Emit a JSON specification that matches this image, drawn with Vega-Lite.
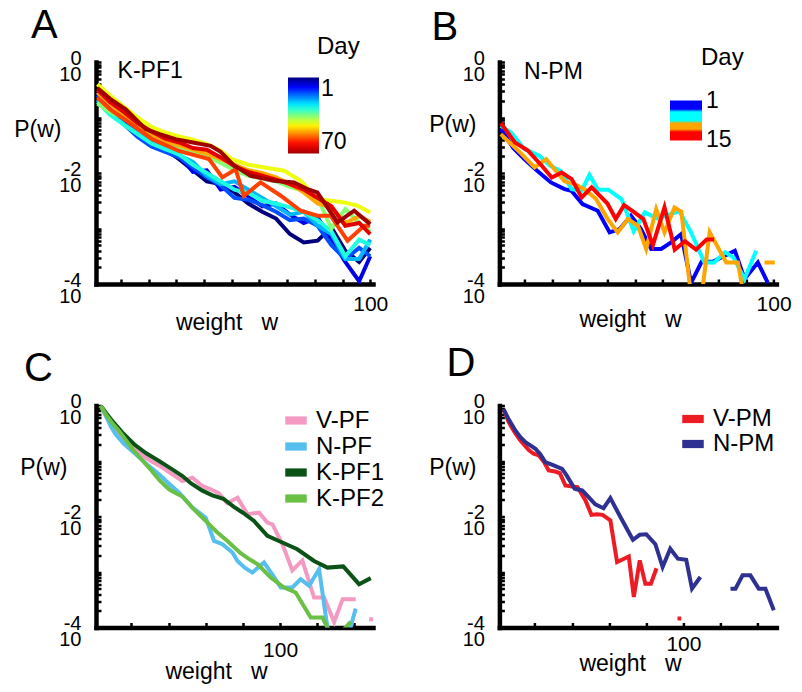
{
"$schema": "https://vega.github.io/schema/vega-lite/v6.json",
"padding": {"left": 13, "top": 5, "right": 5, "bottom": 5},
"background": "white",
"columns": 2,
"bounds": "flush",
"spacing": {"row": 121.5, "column": 126.4},
"config": {
 "font": "Liberation Sans",
 "view": {"stroke": null},
 "axis": {"domainColor": "black", "domainWidth": 4.5, "domainCap": "square", "tickColor": "black", "tickWidth": 2.5, "tickSize": -5, "grid": false, "labelColor": "black", "titleColor": "black", "labelFont": "Liberation Sans", "titleFont": "Liberation Sans", "titleFontWeight": "normal", "labelOverlap": false, "labelFlush": false, "labelBound": false},
 "legend": {"labelFont": "Liberation Sans", "titleFont": "Liberation Sans", "labelColor": "black", "titleColor": "black", "titleFontWeight": "normal", "padding": 0},
 "title": {"color": "black", "fontWeight": "normal", "font": "Liberation Sans"}
},
"resolve": {"scale": {"color": "independent"}},
"datasets": {
 "A": [
  {"day":1,"w":1.5,"P":0.263},{"day":1,"w":6,"P":0.141},{"day":1,"w":11,"P":0.0794},{"day":1,"w":16,"P":0.0525},{"day":1,"w":21,"P":0.0331},{"day":1,"w":26,"P":0.0263},{"day":1,"w":31,"P":0.0178},{"day":1,"w":36,"P":0.0112},{"day":1,"w":41,"P":0.00708},{"day":1,"w":46,"P":0.00631},{"day":1,"w":51,"P":0.00447},{"day":1,"w":56,"P":0.00282},{"day":1,"w":61,"P":0.002},{"day":1,"w":66,"P":0.00151},{"day":1,"w":71,"P":0.000794},{"day":1,"w":76,"P":0.000562},{"day":1,"w":81,"P":0.000603},{"day":1,"w":86,"P":0.00105},{"day":1,"w":91,"P":0.000398},{"day":1,"w":96,"P":0.000251},{"day":1,"w":100,"P":0.000447},
  {"day":8,"w":1.5,"P":0.282},{"day":8,"w":6,"P":0.141},{"day":8,"w":11,"P":0.0832},{"day":8,"w":16,"P":0.0562},{"day":8,"w":21,"P":0.0355},{"day":8,"w":26,"P":0.0282},{"day":8,"w":31,"P":0.0209},{"day":8,"w":36,"P":0.0105},{"day":8,"w":41,"P":0.0112},{"day":8,"w":46,"P":0.00501},{"day":8,"w":51,"P":0.00562},{"day":8,"w":56,"P":0.0038},{"day":8,"w":61,"P":0.00251},{"day":8,"w":66,"P":0.00282},{"day":8,"w":71,"P":0.00178},{"day":8,"w":76,"P":0.00126},{"day":8,"w":81,"P":0.00158},{"day":8,"w":86,"P":0.000631},{"day":8,"w":91,"P":0.000251},{"day":8,"w":96,"P":0.000112},{"day":8,"w":100,"P":0.000316},
  {"day":15,"w":1.5,"P":0.251},{"day":15,"w":6,"P":0.132},{"day":15,"w":11,"P":0.0759},{"day":15,"w":16,"P":0.0447},{"day":15,"w":21,"P":0.0302},{"day":15,"w":26,"P":0.024},{"day":15,"w":31,"P":0.0191},{"day":15,"w":36,"P":0.0126},{"day":15,"w":41,"P":0.00832},{"day":15,"w":46,"P":0.00603},{"day":15,"w":51,"P":0.00355},{"day":15,"w":56,"P":0.00331},{"day":15,"w":61,"P":0.00263},{"day":15,"w":66,"P":0.002},{"day":15,"w":71,"P":0.00141},{"day":15,"w":76,"P":0.00151},{"day":15,"w":81,"P":0.00112},{"day":15,"w":86,"P":0.000501},{"day":15,"w":91,"P":0.000282},{"day":15,"w":96,"P":0.000447},{"day":15,"w":100,"P":0.000316},
  {"day":22,"w":1.5,"P":0.209},{"day":22,"w":6,"P":0.12},{"day":22,"w":11,"P":0.0759},{"day":22,"w":16,"P":0.0525},{"day":22,"w":21,"P":0.0372},{"day":22,"w":26,"P":0.0282},{"day":22,"w":31,"P":0.0209},{"day":22,"w":36,"P":0.0158},{"day":22,"w":41,"P":0.00891},{"day":22,"w":46,"P":0.00631},{"day":22,"w":51,"P":0.00708},{"day":22,"w":56,"P":0.00501},{"day":22,"w":61,"P":0.00355},{"day":22,"w":66,"P":0.00251},{"day":22,"w":71,"P":0.00178},{"day":22,"w":76,"P":0.002},{"day":22,"w":81,"P":0.00112},{"day":22,"w":86,"P":0.000794},{"day":22,"w":91,"P":0.000282},{"day":22,"w":96,"P":0.000282},{"day":22,"w":100,"P":0.000631},
  {"day":29,"w":1.5,"P":0.191},{"day":29,"w":6,"P":0.112},{"day":29,"w":11,"P":0.0741},{"day":29,"w":16,"P":0.0501},{"day":29,"w":21,"P":0.0339},{"day":29,"w":26,"P":0.0269},{"day":29,"w":31,"P":0.0219},{"day":29,"w":36,"P":0.0141},{"day":29,"w":41,"P":0.01},{"day":29,"w":46,"P":0.00708},{"day":29,"w":51,"P":0.00501},{"day":29,"w":56,"P":0.00437},{"day":29,"w":61,"P":0.00316},{"day":29,"w":66,"P":0.00282},{"day":29,"w":71,"P":0.0024},{"day":29,"w":76,"P":0.002},{"day":29,"w":81,"P":0.00141},{"day":29,"w":86,"P":0.000891},{"day":29,"w":91,"P":0.000316},{"day":29,"w":96,"P":0.000631},{"day":29,"w":100,"P":0.000501},
  {"day":36,"w":1.5,"P":0.178},{"day":36,"w":6,"P":0.126},{"day":36,"w":11,"P":0.1},{"day":36,"w":16,"P":0.0832},{"day":36,"w":21,"P":0.0562},{"day":36,"w":26,"P":0.038},{"day":36,"w":31,"P":0.0282},{"day":36,"w":36,"P":0.024},{"day":36,"w":41,"P":0.02},{"day":36,"w":46,"P":0.0151},{"day":36,"w":51,"P":0.0112},{"day":36,"w":56,"P":0.00891},{"day":36,"w":61,"P":0.00794},{"day":36,"w":66,"P":0.00708},{"day":36,"w":71,"P":0.00562},{"day":36,"w":76,"P":0.00479},{"day":36,"w":81,"P":0.00355},{"day":36,"w":86,"P":0.001},{"day":36,"w":91,"P":0.00224},{"day":36,"w":96,"P":0.00126},{"day":36,"w":100,"P":0.000891},
  {"day":43,"w":1.5,"P":0.398},{"day":43,"w":6,"P":0.251},{"day":43,"w":11,"P":0.158},{"day":43,"w":16,"P":0.1},{"day":43,"w":21,"P":0.0676},{"day":43,"w":26,"P":0.0537},{"day":43,"w":31,"P":0.0457},{"day":43,"w":36,"P":0.0398},{"day":43,"w":41,"P":0.0331},{"day":43,"w":46,"P":0.0251},{"day":43,"w":50,"P":0.0178},{"day":43,"w":56,"P":0.0141},{"day":43,"w":61.6,"P":0.0126},{"day":43,"w":68.9,"P":0.011},{"day":43,"w":74.9,"P":0.00724},{"day":43,"w":80.9,"P":0.00339},{"day":43,"w":90.6,"P":0.00295},{"day":43,"w":95.4,"P":0.00257},{"day":43,"w":100,"P":0.00195},
  {"day":50,"w":1.5,"P":0.282},{"day":50,"w":6,"P":0.178},{"day":50,"w":11,"P":0.112},{"day":50,"w":16,"P":0.0708},{"day":50,"w":21,"P":0.0501},{"day":50,"w":26,"P":0.038},{"day":50,"w":31,"P":0.0316},{"day":50,"w":36,"P":0.0263},{"day":50,"w":41,"P":0.0224},{"day":50,"w":46,"P":0.0178},{"day":50,"w":51,"P":0.0141},{"day":50,"w":56,"P":0.0112},{"day":50,"w":61,"P":0.01},{"day":50,"w":66,"P":0.00832},{"day":50,"w":71,"P":0.00631},{"day":50,"w":76,"P":0.00447},{"day":50,"w":81,"P":0.00282},{"day":50,"w":86,"P":0.0024},{"day":50,"w":91,"P":0.00126},{"day":50,"w":96,"P":0.00166},{"day":50,"w":100,"P":0.00132},
  {"day":57,"w":1.5,"P":0.229},{"day":57,"w":6,"P":0.141},{"day":57,"w":12.9,"P":0.0813},{"day":57,"w":21.3,"P":0.0407},{"day":57,"w":30.9,"P":0.0251},{"day":57,"w":41.8,"P":0.0178},{"day":57,"w":46.6,"P":0.00832},{"day":57,"w":51.4,"P":0.0117},{"day":57,"w":54.4,"P":0.00389},{"day":57,"w":60.4,"P":0.00676},{"day":57,"w":67.7,"P":0.00389},{"day":57,"w":74.9,"P":0.00209},{"day":57,"w":80.9,"P":0.0017},{"day":57,"w":85.7,"P":0.0017},{"day":57,"w":91.8,"P":0.000603},{"day":57,"w":97.8,"P":0.00112},{"day":57,"w":100,"P":0.00112},
  {"day":64,"w":1.5,"P":0.316},{"day":64,"w":6,"P":0.191},{"day":64,"w":11,"P":0.126},{"day":64,"w":16,"P":0.0794},{"day":64,"w":21,"P":0.0562},{"day":64,"w":26,"P":0.0417},{"day":64,"w":31,"P":0.0355},{"day":64,"w":36,"P":0.0282},{"day":64,"w":41,"P":0.0263},{"day":64,"w":46,"P":0.0191},{"day":64,"w":51,"P":0.0132},{"day":64,"w":56,"P":0.0105},{"day":64,"w":61,"P":0.00891},{"day":64,"w":66,"P":0.00759},{"day":64,"w":71,"P":0.00631},{"day":64,"w":76,"P":0.00501},{"day":64,"w":81,"P":0.00355},{"day":64,"w":86,"P":0.00251},{"day":64,"w":91,"P":0.00112},{"day":64,"w":96,"P":0.00126},{"day":64,"w":100,"P":0.000794},
  {"day":70,"w":1.5,"P":0.339},{"day":70,"w":6,"P":0.219},{"day":70,"w":11.7,"P":0.141},{"day":70,"w":18.9,"P":0.0617},{"day":70,"w":24,"P":0.0501},{"day":70,"w":29.7,"P":0.0407},{"day":70,"w":36,"P":0.0355},{"day":70,"w":42.4,"P":0.0309},{"day":70,"w":46,"P":0.024},{"day":70,"w":50.5,"P":0.0141},{"day":70,"w":56.8,"P":0.00891},{"day":70,"w":65.3,"P":0.00724},{"day":70,"w":72.5,"P":0.00676},{"day":70,"w":77.3,"P":0.00513},{"day":70,"w":80.9,"P":0.00447},{"day":70,"w":88.2,"P":0.00129},{"day":70,"w":94.2,"P":0.00209},{"day":70,"w":100,"P":0.0012}
 ],
 "B": [
  {"day":1,"w":1.5,"P":0.0631},{"day":1,"w":6,"P":0.0282},{"day":1,"w":10,"P":0.0178},{"day":1,"w":14,"P":0.0117},{"day":1,"w":19.6,"P":0.00676},{"day":1,"w":24.5,"P":0.00513},{"day":1,"w":27,"P":0.00479},{"day":1,"w":31,"P":0.00275},{"day":1,"w":36.5,"P":0.00209},{"day":1,"w":40.8,"P":0.000851},{"day":1,"w":44.4,"P":0.000977},{"day":1,"w":48.5,"P":0.0017},{"day":1,"w":52,"P":0.001},{"day":1,"w":55.8,"P":0.000427},{"day":1,"w":59.4,"P":0.000427},{"day":1,"w":63,"P":0.000562},{"day":1,"w":66.6,"P":0.000794},{"day":1,"w":70.2,"P":0.000105},{"day":1,"w":74,"P":0.000251},{"day":1,"w":78,"P":0.000251},{"day":1,"w":82,"P":0.000316},{"day":1,"w":86,"P":0.000398},{"day":1,"w":89.5,"P":0.000123},{"day":1,"w":94.3,"P":0.000245},{"day":1,"w":97.9,"P":0.000105},
  {"day":5,"w":1.5,"P":0.0708},{"day":5,"w":5.2,"P":0.0537},{"day":5,"w":10.1,"P":0.0269},{"day":5,"w":15.4,"P":0.0204},{"day":5,"w":19.4,"P":0.0135},{"day":5,"w":23,"P":0.011},{"day":5,"w":27.1,"P":0.00513},{"day":5,"w":30.7,"P":0.00479},{"day":5,"w":33.5,"P":0.00933},{"day":5,"w":36.6,"P":0.00501},{"day":5,"w":40.3,"P":0.00501},{"day":5,"w":45.1,"P":0.00339},{"day":5,"w":49.5,"P":0.000891},{"day":5,"w":53.5,"P":0.00195},{"day":5,"w":58,"P":0.00151},{"day":5,"w":62,"P":0.00178},{"day":5,"w":66,"P":0.00204},{"day":5,"w":70,"P":0.000891},{"day":5,"w":75,"P":0.000245},{"day":5,"w":78.5,"P":0.000245},{"day":5,"w":82.5,"P":0.000372},{"day":5,"w":85.5,"P":0.000302},{"day":5,"w":89.5,"P":0.000123},{"day":5,"w":93.7,"P":0.000398},
  {"day":10,"w":1.5,"P":0.0501},{"day":10,"w":8.9,"P":0.0224},{"day":10,"w":13.7,"P":0.0126},{"day":10,"w":17.9,"P":0.0178},{"day":10,"w":20.9,"P":0.0117},{"day":10,"w":24.5,"P":0.00708},{"day":10,"w":28.1,"P":0.00631},{"day":10,"w":32,"P":0.00501},{"day":10,"w":35.9,"P":0.00339},{"day":10,"w":40.1,"P":0.00148},{"day":10,"w":43.7,"P":0.000851},{"day":10,"w":47.4,"P":0.00148},{"day":10,"w":51,"P":0.00112},{"day":10,"w":54,"P":0.000427},{"day":10,"w":57.6,"P":0.00224},{"day":10,"w":60.6,"P":0.000851},{"day":10,"w":64.2,"P":0.0024},{"day":10,"w":66.7,"P":0.002},{"day":10,"w":72,"P":0.00001},{"day":10,"w":76.9,"P":0.000851},{"day":10,"w":82.9,"P":0.000245},{"day":10,"w":87.1,"P":0.000245},{"day":10,"w":92,"P":0.00001},{"day":10,"w":94,"P":null},{"day":10,"w":96.7,"P":0.000245},{"day":10,"w":100.4,"P":0.000245},
  {"day":15,"w":1.5,"P":0.0794},{"day":15,"w":6.6,"P":0.0355},{"day":15,"w":11.4,"P":0.0251},{"day":15,"w":16.3,"P":0.0135},{"day":15,"w":19.9,"P":0.00832},{"day":15,"w":23.5,"P":0.0102},{"day":15,"w":27.1,"P":0.00776},{"day":15,"w":30.7,"P":0.00363},{"day":15,"w":34.3,"P":0.0055},{"day":15,"w":40,"P":0.00282},{"day":15,"w":43,"P":0.00148},{"day":15,"w":46,"P":0.00263},{"day":15,"w":49.5,"P":0.002},{"day":15,"w":53,"P":0.00148},{"day":15,"w":56.4,"P":0.000501},{"day":15,"w":60.6,"P":0.0024},{"day":15,"w":64.3,"P":0.000417},{"day":15,"w":68,"P":0.000589},{"day":15,"w":72,"P":0.000417},{"day":15,"w":75.8,"P":0.000631},{"day":15,"w":78.5,"P":0.000631}
 ],
 "C": [
  {"s":"V-PF","w":3.5,"P":1},{"s":"V-PF","w":6.5,"P":0.631},{"s":"V-PF","w":9.5,"P":0.447},{"s":"V-PF","w":13,"P":0.316},{"s":"V-PF","w":17,"P":0.234},{"s":"V-PF","w":20.6,"P":0.174},{"s":"V-PF","w":26,"P":0.126},{"s":"V-PF","w":30.5,"P":0.1},{"s":"V-PF","w":34.9,"P":0.0832},{"s":"V-PF","w":42.1,"P":0.0575},{"s":"V-PF","w":47.5,"P":0.0437},{"s":"V-PF","w":52.9,"P":0.0501},{"s":"V-PF","w":58.2,"P":0.0355},{"s":"V-PF","w":62.7,"P":0.0309},{"s":"V-PF","w":67,"P":0.0263},{"s":"V-PF","w":71.7,"P":0.0174},{"s":"V-PF","w":77.1,"P":0.0219},{"s":"V-PF","w":82.5,"P":0.011},{"s":"V-PF","w":88.7,"P":0.0117},{"s":"V-PF","w":93.2,"P":0.00776},{"s":"V-PF","w":95.9,"P":0.00724},{"s":"V-PF","w":101.3,"P":0.00316},{"s":"V-PF","w":106.6,"P":0.00107},{"s":"V-PF","w":112,"P":0.00162},{"s":"V-PF","w":118.3,"P":0.000347},{"s":"V-PF","w":123.7,"P":0.000347},{"s":"V-PF","w":129.1,"P":0.000126},{"s":"V-PF","w":133.7,"P":0.000324},{"s":"V-PF","w":140.7,"P":0.000324},{"s":"V-PF","w":144.5,"P":null},{"s":"V-PF","w":147.9,"P":0.000141},{"s":"V-PF","w":150.5,"P":0.000141},
  {"s":"N-PF","w":3.5,"P":1},{"s":"N-PF","w":6.5,"P":0.631},{"s":"N-PF","w":9,"P":0.417},{"s":"N-PF","w":11.6,"P":0.302},{"s":"N-PF","w":16,"P":0.204},{"s":"N-PF","w":22.4,"P":0.132},{"s":"N-PF","w":28,"P":0.0891},{"s":"N-PF","w":34.9,"P":0.0575},{"s":"N-PF","w":40,"P":0.0398},{"s":"N-PF","w":45.7,"P":0.0269},{"s":"N-PF","w":52.9,"P":0.0145},{"s":"N-PF","w":60,"P":0.00955},{"s":"N-PF","w":64.5,"P":0.00363},{"s":"N-PF","w":69,"P":0.00316},{"s":"N-PF","w":74.4,"P":0.00224},{"s":"N-PF","w":77.1,"P":0.00158},{"s":"N-PF","w":81,"P":0.0012},{"s":"N-PF","w":85.1,"P":0.000977},{"s":"N-PF","w":91.4,"P":0.00148},{"s":"N-PF","w":96,"P":0.000891},{"s":"N-PF","w":100.4,"P":0.000525},{"s":"N-PF","w":106.6,"P":0.000525},{"s":"N-PF","w":111.1,"P":0.000741},{"s":"N-PF","w":115.6,"P":0.000562},{"s":"N-PF","w":121,"P":0.00112},{"s":"N-PF","w":127,"P":0.0000447},{"s":"N-PF","w":133,"P":0.0000251},{"s":"N-PF","w":140.7,"P":0.000219},{"s":"N-PF","w":145,"P":null},
  {"s":"K-PF1","w":3.5,"P":1},{"s":"K-PF1","w":6.5,"P":0.724},{"s":"K-PF1","w":9.8,"P":0.525},{"s":"K-PF1","w":15.2,"P":0.324},{"s":"K-PF1","w":21.5,"P":0.2},{"s":"K-PF1","w":28,"P":0.138},{"s":"K-PF1","w":34.9,"P":0.1},{"s":"K-PF1","w":42,"P":0.0708},{"s":"K-PF1","w":47.5,"P":0.0537},{"s":"K-PF1","w":52,"P":0.0398},{"s":"K-PF1","w":58,"P":0.0295},{"s":"K-PF1","w":63.6,"P":0.024},{"s":"K-PF1","w":69.5,"P":0.0209},{"s":"K-PF1","w":75,"P":0.0151},{"s":"K-PF1","w":80,"P":0.0117},{"s":"K-PF1","w":86,"P":0.00832},{"s":"K-PF1","w":93.2,"P":0.00447},{"s":"K-PF1","w":100,"P":0.00355},{"s":"K-PF1","w":109.3,"P":0.00257},{"s":"K-PF1","w":118.3,"P":0.00158},{"s":"K-PF1","w":125.5,"P":0.0012},{"s":"K-PF1","w":134,"P":0.00126},{"s":"K-PF1","w":142.5,"P":0.000603},{"s":"K-PF1","w":148.8,"P":0.000776},
  {"s":"K-PF2","w":3.5,"P":1},{"s":"K-PF2","w":6.5,"P":0.676},{"s":"K-PF2","w":9.8,"P":0.479},{"s":"K-PF2","w":13.4,"P":0.347},{"s":"K-PF2","w":17,"P":0.24},{"s":"K-PF2","w":21,"P":0.158},{"s":"K-PF2","w":26,"P":0.102},{"s":"K-PF2","w":31,"P":0.0661},{"s":"K-PF2","w":35.5,"P":0.0437},{"s":"K-PF2","w":40.3,"P":0.0309},{"s":"K-PF2","w":44,"P":0.0263},{"s":"K-PF2","w":47.5,"P":0.0229},{"s":"K-PF2","w":53,"P":0.0141},{"s":"K-PF2","w":60,"P":0.00832},{"s":"K-PF2","w":66,"P":0.00525},{"s":"K-PF2","w":71.7,"P":0.00363},{"s":"K-PF2","w":78.8,"P":0.00219},{"s":"K-PF2","w":84,"P":0.00166},{"s":"K-PF2","w":88,"P":0.00138},{"s":"K-PF2","w":95,"P":0.000794},{"s":"K-PF2","w":102.2,"P":0.000525},{"s":"K-PF2","w":108.4,"P":0.000427},{"s":"K-PF2","w":116.5,"P":0.000151},{"s":"K-PF2","w":122.8,"P":0.000151},{"s":"K-PF2","w":128,"P":0.0000676},{"s":"K-PF2","w":133,"P":0.0000832},{"s":"K-PF2","w":138,"P":0.000126},{"s":"K-PF2","w":142,"P":null}
 ],
 "D": [
  {"s":"V-PM","w":3.3,"P":0.851},{"s":"V-PM","w":6,"P":0.501},{"s":"V-PM","w":9.5,"P":0.316},{"s":"V-PM","w":12.3,"P":0.234},{"s":"V-PM","w":16.8,"P":0.158},{"s":"V-PM","w":19.4,"P":0.135},{"s":"V-PM","w":22.2,"P":0.126},{"s":"V-PM","w":25,"P":0.0955},{"s":"V-PM","w":27.5,"P":0.0676},{"s":"V-PM","w":31,"P":0.0646},{"s":"V-PM","w":33.5,"P":0.0603},{"s":"V-PM","w":36.5,"P":0.0363},{"s":"V-PM","w":40,"P":0.0347},{"s":"V-PM","w":43,"P":0.0339},{"s":"V-PM","w":47.3,"P":0.0195},{"s":"V-PM","w":50.5,"P":0.0107},{"s":"V-PM","w":53.5,"P":0.011},{"s":"V-PM","w":56.5,"P":0.0107},{"s":"V-PM","w":60.7,"P":0.00851},{"s":"V-PM","w":64.3,"P":0.00151},{"s":"V-PM","w":67.5,"P":0.0017},{"s":"V-PM","w":70.6,"P":0.00191},{"s":"V-PM","w":73.3,"P":0.000355},{"s":"V-PM","w":76.5,"P":0.00162},{"s":"V-PM","w":79.5,"P":0.000617},{"s":"V-PM","w":82.5,"P":0.000617},{"s":"V-PM","w":85.5,"P":0.00117},{"s":"V-PM","w":90,"P":null},{"s":"V-PM","w":96.8,"P":0.000145},{"s":"V-PM","w":98.8,"P":0.000145},{"s":"V-PM","w":102,"P":null},
  {"s":"N-PM","w":3.3,"P":0.851},{"s":"N-PM","w":6,"P":0.562},{"s":"N-PM","w":9.6,"P":0.355},{"s":"N-PM","w":12.3,"P":0.269},{"s":"N-PM","w":15,"P":0.219},{"s":"N-PM","w":20.4,"P":0.166},{"s":"N-PM","w":23,"P":0.132},{"s":"N-PM","w":25.7,"P":0.0955},{"s":"N-PM","w":30.2,"P":0.0832},{"s":"N-PM","w":34.7,"P":0.0724},{"s":"N-PM","w":37,"P":0.0562},{"s":"N-PM","w":41.5,"P":0.0316},{"s":"N-PM","w":45.5,"P":0.0295},{"s":"N-PM","w":49,"P":0.0224},{"s":"N-PM","w":52.6,"P":0.0166},{"s":"N-PM","w":57,"P":0.0141},{"s":"N-PM","w":60.7,"P":0.0214},{"s":"N-PM","w":66.1,"P":0.00977},{"s":"N-PM","w":72.8,"P":0.0038},{"s":"N-PM","w":76.5,"P":0.00468},{"s":"N-PM","w":80,"P":0.00479},{"s":"N-PM","w":84.9,"P":0.00316},{"s":"N-PM","w":88.8,"P":0.00123},{"s":"N-PM","w":92.9,"P":0.00263},{"s":"N-PM","w":97,"P":0.00174},{"s":"N-PM","w":101.5,"P":0.00166},{"s":"N-PM","w":104.6,"P":0.000501},{"s":"N-PM","w":109.1,"P":0.000813},{"s":"N-PM","w":115,"P":null},{"s":"N-PM","w":125.3,"P":0.000501},{"s":"N-PM","w":128,"P":0.000501},{"s":"N-PM","w":131.8,"P":0.000871},{"s":"N-PM","w":136,"P":0.000871},{"s":"N-PM","w":140.5,"P":0.000501},{"s":"N-PM","w":144.1,"P":0.000501},{"s":"N-PM","w":148.6,"P":0.000204}
 ]
},
"concat": [
 {
  "title": {"text": "A", "anchor": "start", "frame": "group", "dx": -65, "fontSize": 40, "baseline": "alphabetic", "offset": -42.5},
  "width": 277, "height": 222,
  "layer": [
   {"data": {"name": "A"},
    "mark": {"type": "line", "strokeWidth": 4, "clip": true, "invalid": "break-paths-filter-domains"},
    "encoding": {
     "x": {"field": "w", "type": "quantitative", "scale": {"domain": [1, 101], "nice": false, "zero": false},
       "axis": {"values": [10,20,30,40,50,60,70,80,90,100], "labelExpr": "datum.value == 100 ? '100' : ''", "labelFontSize": 21, "labelPadding": 14, "title": "weight\u00a0\u00a0 w", "titleFontSize": 23, "titleX": 130.5, "titleY": 45, "titleBaseline": "alphabetic", "titleAlign": "center"}},
     "y": {"field": "P", "type": "quantitative", "scale": {"type": "log", "domain": [0.0001, 1], "nice": false},
       "axis": {"values": [0.0001,0.0002,0.0003,0.0004,0.0005,0.0006,0.0007,0.0008,0.0009,0.001,0.002,0.003,0.004,0.005,0.006,0.007,0.008,0.009,0.01,0.02,0.03,0.04,0.05,0.06,0.07,0.08,0.09,0.1,0.2,0.3,0.4,0.5,0.6,0.7,0.8,0.9,1], "labelExpr": "datum.value == 1 ? ['0', '10\u00a0'] : datum.value == 0.01 ? ['-2', '10\u00a0'] : datum.value == 0.0001 ? ['-4', '10\u00a0'] : ''", "labelFontSize": 20, "labelLineHeight": 16, "labelPadding": 20, "labelOffset": -4, "labelAlign": "right", "labelBaseline": "middle", "title": "P(w)", "titleAngle": 0, "titleAlign": "right", "titleBaseline": "middle", "titleX": -35, "titleY": 67, "titleFontSize": 23}},
     "color": {"field": "day", "type": "quantitative",
       "scale": {"domain": [70, 61.375, 52.75, 44.125, 35.5, 26.875, 18.25, 9.625, 1], "range": ["#a00000","#ff0000","#ff7f00","#ffff00","#7fff7f","#00ffff","#007fff","#0000ff","#00007f"], "interpolate": "rgb", "nice": false, "zero": false},
       "legend": {"type": "gradient", "orient": "none", "legendX": 192, "legendY": -27, "direction": "vertical", "gradientLength": 76, "gradientThickness": 31, "gradientStrokeWidth": 0, "values": [1, 70], "labelFontSize": 23, "labelOffset": 2, "title": "Day", "titleFontSize": 24, "titlePadding": 18.5, "titleAnchor": "middle", "titleAlign": "left"}}
    }},
   {"data": {"values": [{"w": 8.8, "P": 0.7, "label": "K-PF1"}]},
    "mark": {"type": "text", "align": "left", "baseline": "middle", "fontSize": 23, "color": "black"},
    "encoding": {
     "x": {"field": "w", "type": "quantitative", "scale": {"domain": [1, 101], "nice": false, "zero": false},
       "axis": {"values": [10,20,30,40,50,60,70,80,90,100], "labelExpr": "datum.value == 100 ? '100' : ''", "labelFontSize": 21, "labelPadding": 14, "title": "weight\u00a0\u00a0 w", "titleFontSize": 23, "titleX": 130.5, "titleY": 45, "titleBaseline": "alphabetic", "titleAlign": "center"}},
     "y": {"field": "P", "type": "quantitative", "scale": {"type": "log", "domain": [0.0001, 1], "nice": false},
       "axis": {"values": [0.0001,0.0002,0.0003,0.0004,0.0005,0.0006,0.0007,0.0008,0.0009,0.001,0.002,0.003,0.004,0.005,0.006,0.007,0.008,0.009,0.01,0.02,0.03,0.04,0.05,0.06,0.07,0.08,0.09,0.1,0.2,0.3,0.4,0.5,0.6,0.7,0.8,0.9,1], "labelExpr": "datum.value == 1 ? ['0', '10\u00a0'] : datum.value == 0.01 ? ['-2', '10\u00a0'] : datum.value == 0.0001 ? ['-4', '10\u00a0'] : ''", "labelFontSize": 20, "labelLineHeight": 16, "labelPadding": 20, "labelOffset": -4, "labelAlign": "right", "labelBaseline": "middle", "title": "P(w)", "titleAngle": 0, "titleAlign": "right", "titleBaseline": "middle", "titleX": -35, "titleY": 67, "titleFontSize": 23}},
     "text": {"field": "label"}
    }}
  ]
 },
 {
  "title": {"text": "B", "anchor": "start", "frame": "group", "dx": -68, "fontSize": 40, "baseline": "alphabetic", "offset": -33.5},
  "width": 277, "height": 222,
  "layer": [
   {"data": {"name": "B"},
    "mark": {"type": "line", "strokeWidth": 4, "clip": true, "invalid": "break-paths-filter-domains"},
    "encoding": {
     "x": {"field": "w", "type": "quantitative", "scale": {"domain": [1, 101], "nice": false, "zero": false},
       "axis": {"values": [10,20,30,40,50,60,70,80,90,100], "labelExpr": "datum.value == 100 ? '100' : ''", "labelFontSize": 21, "labelPadding": 14, "title": "weight\u00a0\u00a0 w", "titleFontSize": 23, "titleX": 130.6, "titleY": 42, "titleBaseline": "alphabetic", "titleAlign": "center"}},
     "y": {"field": "P", "type": "quantitative", "scale": {"type": "log", "domain": [0.0001, 1], "nice": false},
       "axis": {"values": [0.0001,0.0002,0.0003,0.0004,0.0005,0.0006,0.0007,0.0008,0.0009,0.001,0.002,0.003,0.004,0.005,0.006,0.007,0.008,0.009,0.01,0.02,0.03,0.04,0.05,0.06,0.07,0.08,0.09,0.1,0.2,0.3,0.4,0.5,0.6,0.7,0.8,0.9,1], "labelExpr": "datum.value == 1 ? ['0', '10\u00a0'] : datum.value == 0.01 ? ['-2', '10\u00a0'] : datum.value == 0.0001 ? ['-4', '10\u00a0'] : ''", "labelFontSize": 20, "labelLineHeight": 16, "labelPadding": 20, "labelOffset": -4, "labelAlign": "right", "labelBaseline": "middle", "title": "P(w)", "titleAngle": 0, "titleAlign": "right", "titleBaseline": "middle", "titleX": -23.4, "titleY": 62, "titleFontSize": 23}},
     "color": {"field": "day", "type": "quantitative",
       "scale": {"domain": [15, 11.51, 11.49, 8.51, 8.49, 4.51, 4.49, 1], "range": ["#ff0000","#ff0000","#ffa500","#ffa500","#00ffff","#00ffff","#0000ff","#0000ff"], "interpolate": "rgb", "nice": false, "zero": false},
       "legend": {"type": "gradient", "orient": "none", "legendX": 170.6, "legendY": -16, "direction": "vertical", "gradientLength": 40, "gradientThickness": 32, "gradientStrokeWidth": 0, "values": [1.01, 14.99], "labelExpr": "datum.value < 5 ? '1' : '15'", "labelFontSize": 23, "labelOffset": 4, "title": "Day", "titleFontSize": 24, "titlePadding": 30.5, "titleAnchor": "middle", "titleAlign": "left"}}
    }},
   {"data": {"values": [{"w": 9.9, "P": 0.674, "label": "N-PM"}]},
    "mark": {"type": "text", "align": "left", "baseline": "middle", "fontSize": 23, "color": "black"},
    "encoding": {
     "x": {"field": "w", "type": "quantitative", "scale": {"domain": [1, 101], "nice": false, "zero": false},
       "axis": {"values": [10,20,30,40,50,60,70,80,90,100], "labelExpr": "datum.value == 100 ? '100' : ''", "labelFontSize": 21, "labelPadding": 14, "title": "weight\u00a0\u00a0 w", "titleFontSize": 23, "titleX": 130.6, "titleY": 42, "titleBaseline": "alphabetic", "titleAlign": "center"}},
     "y": {"field": "P", "type": "quantitative", "scale": {"type": "log", "domain": [0.0001, 1], "nice": false},
       "axis": {"values": [0.0001,0.0002,0.0003,0.0004,0.0005,0.0006,0.0007,0.0008,0.0009,0.001,0.002,0.003,0.004,0.005,0.006,0.007,0.008,0.009,0.01,0.02,0.03,0.04,0.05,0.06,0.07,0.08,0.09,0.1,0.2,0.3,0.4,0.5,0.6,0.7,0.8,0.9,1], "labelExpr": "datum.value == 1 ? ['0', '10\u00a0'] : datum.value == 0.01 ? ['-2', '10\u00a0'] : datum.value == 0.0001 ? ['-4', '10\u00a0'] : ''", "labelFontSize": 20, "labelLineHeight": 16, "labelPadding": 20, "labelOffset": -4, "labelAlign": "right", "labelBaseline": "middle", "title": "P(w)", "titleAngle": 0, "titleAlign": "right", "titleBaseline": "middle", "titleX": -23.4, "titleY": 62, "titleFontSize": 23}},
     "text": {"field": "label"}
    }}
  ]
 },
 {
  "title": {"text": "C", "anchor": "start", "frame": "group", "dx": -72, "fontSize": 40, "baseline": "alphabetic", "offset": -29.5},
  "width": 277, "height": 222,
  "data": {"name": "C"},
  "mark": {"type": "line", "strokeWidth": 4, "clip": true, "invalid": "break-paths-filter-domains"},
  "encoding": {
   "x": {"field": "w", "type": "quantitative", "scale": {"domain": [1, 150], "nice": false, "zero": false},
     "axis": {"values": [20,40,60,80,100,120,140], "labelExpr": "datum.value == 100 ? '100' : ''", "labelFontSize": 21, "labelPadding": 17, "title": "weight\u00a0\u00a0 w", "titleFontSize": 23, "titleX": 120, "titleY": 51, "titleBaseline": "alphabetic", "titleAlign": "center"}},
   "y": {"field": "P", "type": "quantitative", "scale": {"type": "log", "domain": [0.0001, 1], "nice": false},
     "axis": {"values": [0.0001,0.0002,0.0003,0.0004,0.0005,0.0006,0.0007,0.0008,0.0009,0.001,0.002,0.003,0.004,0.005,0.006,0.007,0.008,0.009,0.01,0.02,0.03,0.04,0.05,0.06,0.07,0.08,0.09,0.1,0.2,0.3,0.4,0.5,0.6,0.7,0.8,0.9,1], "labelExpr": "datum.value == 1 ? ['0', '10\u00a0'] : datum.value == 0.01 ? ['-2', '10\u00a0'] : datum.value == 0.0001 ? ['-4', '10\u00a0'] : ''", "labelFontSize": 20, "labelLineHeight": 16, "labelPadding": 20, "labelOffset": -4, "labelAlign": "right", "labelBaseline": "middle", "title": "P(w)", "titleAngle": 0, "titleAlign": "right", "titleBaseline": "middle", "titleX": -29, "titleY": 61.5, "titleFontSize": 23}},
   "color": {"field": "s", "type": "nominal",
     "scale": {"domain": ["V-PF","N-PF","K-PF1","K-PF2"], "range": ["#f49ac2","#56bfee","#0b5216","#6abf45"]},
     "legend": {"orient": "none", "legendX": 188, "legendY": 3, "title": null, "symbolType": "M-1,-0.17H1V0.17H-1Z", "symbolStrokeWidth": 5.5, "symbolSize": 256, "labelFontSize": 24, "labelOffset": 8, "rowPadding": 0}}
  }
 },
 {
  "title": {"text": "D", "anchor": "start", "frame": "group", "dx": -53, "fontSize": 40, "baseline": "alphabetic", "offset": -24.5},
  "width": 277, "height": 222,
  "data": {"name": "D"},
  "mark": {"type": "line", "strokeWidth": 4, "clip": true, "invalid": "break-paths-filter-domains"},
  "encoding": {
   "x": {"field": "w", "type": "quantitative", "scale": {"domain": [1, 150], "nice": false, "zero": false},
     "axis": {"values": [20,40,60,80,100,120,140], "labelExpr": "datum.value == 100 ? '100' : ''", "labelFontSize": 21, "labelPadding": 11, "title": "weight\u00a0\u00a0 w", "titleFontSize": 23, "titleX": 130.6, "titleY": 43, "titleBaseline": "alphabetic", "titleAlign": "center"}},
   "y": {"field": "P", "type": "quantitative", "scale": {"type": "log", "domain": [0.0001, 1], "nice": false},
     "axis": {"values": [0.0001,0.0002,0.0003,0.0004,0.0005,0.0006,0.0007,0.0008,0.0009,0.001,0.002,0.003,0.004,0.005,0.006,0.007,0.008,0.009,0.01,0.02,0.03,0.04,0.05,0.06,0.07,0.08,0.09,0.1,0.2,0.3,0.4,0.5,0.6,0.7,0.8,0.9,1], "labelExpr": "datum.value == 1 ? ['0', '10\u00a0'] : datum.value == 0.01 ? ['-2', '10\u00a0'] : datum.value == 0.0001 ? ['-4', '10\u00a0'] : ''", "labelFontSize": 20, "labelLineHeight": 16, "labelPadding": 20, "labelOffset": -4, "labelAlign": "right", "labelBaseline": "middle", "title": "P(w)", "titleAngle": 0, "titleAlign": "right", "titleBaseline": "middle", "titleX": -23.4, "titleY": 61.5, "titleFontSize": 23}},
   "color": {"field": "s", "type": "nominal",
     "scale": {"domain": ["V-PM","N-PM"], "range": ["#ed1c24","#2e3192"]},
     "legend": {"orient": "none", "legendX": 181.6, "legendY": 1.5, "title": null, "symbolType": "M-1,-0.17H1V0.17H-1Z", "symbolStrokeWidth": 5.5, "symbolSize": 256, "labelFontSize": 24, "labelOffset": 8, "rowPadding": -7}}
  }
 }
]
}
